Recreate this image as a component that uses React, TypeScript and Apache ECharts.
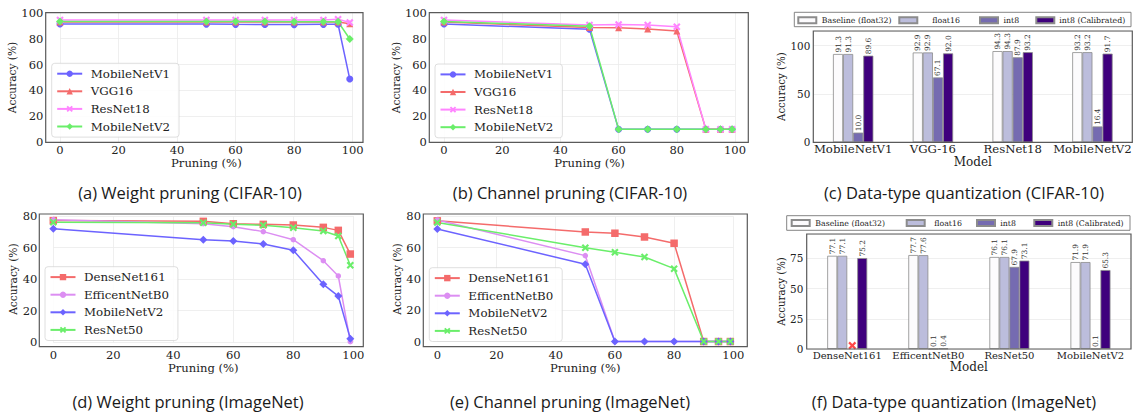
import React, { useEffect, useRef } from "react";
import * as echarts from "echarts";

// ---------------- data ----------------
const pruneLevels = [0, 50, 60, 70, 80, 90, 95, 99];

// (a) weight pruning, CIFAR-10
const wCifarMobileNetV1 = [91.3, 91.2, 91.0, 90.9, 90.8, 91.0, 91.1, 48.8];
const wCifarVGG16 = [92.9, 92.9, 92.9, 92.9, 92.9, 92.9, 92.8, 91.5];
const wCifarResNet18 = [94.3, 94.3, 94.3, 94.3, 94.3, 94.4, 94.9, 92.5];
const wCifarMobileNetV2 = [93.2, 93.2, 93.2, 93.2, 93.1, 93.1, 93.0, 79.7];

// (b) channel pruning, CIFAR-10
const cCifarMobileNetV1 = [91.3, 87.2, 10.0, 10.0, 10.0, 10.0, 10.0, 10.0];
const cCifarVGG16 = [92.9, 88.5, 88.4, 87.5, 85.8, 10.0, 10.0, 10.0];
const cCifarResNet18 = [94.3, 90.6, 90.8, 90.6, 89.2, 10.0, 10.0, 10.0];
const cCifarMobileNetV2 = [93.2, 89.6, 10.0, 10.0, 10.0, 10.0, 10.0, 10.0];

// (d) weight pruning, ImageNet
const wImDenseNet161 = [77.1, 76.6, 75.1, 74.7, 74.3, 72.8, 70.9, 55.9];
const wImEfficentNetB0 = [77.7, 75.1, 73.2, 70.1, 65.0, 51.7, 42.0, 0.4];
const wImMobileNetV2 = [71.9, 65.0, 64.2, 62.3, 58.3, 36.7, 29.3, 2.3];
const wImResNet50 = [76.1, 75.8, 74.7, 74.1, 72.6, 70.5, 67.3, 48.8];

// (e) channel pruning, ImageNet
const cImDenseNet161 = [77.1, 70.0, 69.2, 66.8, 62.8, 0.1, 0.1, 0.1];
const cImEfficentNetB0 = [77.7, 54.9, 0.1, 0.1, 0.1, 0.1, 0.1, 0.1];
const cImMobileNetV2 = [71.9, 49.4, 0.1, 0.1, 0.1, 0.1, 0.1, 0.1];
const cImResNet50 = [76.1, 60.0, 57.0, 54.0, 46.6, 0.1, 0.1, 0.1];

// (c) quantization, CIFAR-10
const qCifarModels = ["MobileNetV1", "VGG-16", "ResNet18", "MobileNetV2"];
const qCifarFloat32 = [91.3, 92.9, 94.3, 93.2];
const qCifarFloat16 = [91.3, 92.9, 94.3, 93.2];
const qCifarInt8 = [10.0, 67.1, 87.9, 16.4];
const qCifarInt8Cal = [89.6, 92.0, 93.2, 91.7];

// (f) quantization, ImageNet
const qImModels = ["DenseNet161", "EfficentNetB0", "ResNet50", "MobileNetV2"];
const qImFloat32 = [77.1, 77.7, 76.1, 71.9];
const qImFloat16 = [77.1, 77.6, 76.1, 71.9];
const qImInt8: (number | null)[] = [null, 0.1, 67.9, 0.1];
const qImInt8Cal = [75.2, 0.4, 73.1, 65.3];
const qImFailed = [[0.062, 2.8]]; // red cross: failed int8 run (DenseNet161)

const xTicks = [0, 20, 40, 60, 80, 100];

// ---------------- styles ----------------
const FONT = "'DejaVu Serif', serif";
const CAPTION_FONT = "'Open Sans', sans-serif";
const TEXT = "#222222";
const GRID_LINE = "#ebebeb";
const FRAME = "#5a5a5a";
const BLUE = "#6c63ff";
const RED = "#f46b6b";
const PINK = "#ff85ff";
const GREEN = "#6aee6a";
const VIOLET = "#dc8ef2";
const X_PATH =
  "path://M2,0 L5,3 L8,0 L10,2 L7,5 L10,8 L8,10 L5,7 L2,10 L0,8 L3,5 L0,2 Z";

const BAR_COLORS = ["#fcfbfd", "#bcbddc", "#756bb1", "#3f007d"];
const BAR_NAMES = ["Baseline (float32)", "float16", "int8", "int8 (Calibrated)"];

function frameRect(x: number, y: number, w: number, h: number, lw = 1.2, color = FRAME) {
  return {
    type: "rect",
    z: 10,
    silent: true,
    shape: { x, y, width: w, height: h },
    style: { fill: "none", stroke: color, lineWidth: lw },
  };
}

function caption(text: string, x: number, y: number) {
  return {
    type: "text",
    z: 10,
    x,
    y,
    silent: true,
    style: {
      text,
      fontSize: 16.5,
      fontFamily: CAPTION_FONT,
      fill: "#1a1a1a",
      align: "center",
      verticalAlign: "middle",
      textAlign: "center",
      textVerticalAlign: "middle",
    },
  };
}

type LineSpec = { name: string; data: number[]; color: string; symbol: string; size: number };

function lineOption(p: any) {
  const series = (p.series as LineSpec[]).map((s) => ({
    type: "line",
    name: s.name,
    data: pruneLevels.map((x, i) => [x, s.data[i]]),
    symbol: s.symbol,
    symbolSize: s.size,
    showSymbol: true,
    lineStyle: { color: s.color, width: 1.5 },
    itemStyle: { color: s.color },
    clip: false,
  }));
  return {
    animation: false,
    textStyle: { fontFamily: FONT },
    grid: { left: p.grid[0], top: p.grid[1], width: p.grid[2], height: p.grid[3] },
    xAxis: {
      type: "value",
      min: xTicks[0],
      max: xTicks[xTicks.length - 1],
      interval: 20,
      name: "Pruning (%)",
      nameLocation: "middle",
      nameGap: p.xNameGap,
      nameTextStyle: { fontFamily: FONT, fontSize: 11.6, color: TEXT },
      axisLine: { show: false },
      axisTick: { show: false },
      axisLabel: { margin: p.xLabelMargin, fontFamily: FONT, fontSize: 11.5, color: TEXT },
      splitLine: { show: true, lineStyle: { color: GRID_LINE, width: 0.8 } },
    },
    yAxis: {
      type: "value",
      min: 0,
      max: p.yMax,
      interval: 20,
      name: "Accuracy (%)",
      nameLocation: "middle",
      nameGap: p.yNameGap,
      nameTextStyle: { fontFamily: FONT, fontSize: 10.6, color: TEXT },
      axisLine: { show: false },
      axisTick: { show: false },
      axisLabel: { margin: p.yLabelMargin, fontFamily: FONT, fontSize: 11.5, color: TEXT },
      splitLine: { show: true, lineStyle: { color: GRID_LINE, width: 0.8 } },
    },
    legend: {
      orient: "vertical",
      left: p.legend[0],
      top: p.legend[1],
      data: (p.series as LineSpec[]).map((s) => s.name),
      itemWidth: 25,
      itemHeight: 8,
      itemGap: 5.6,
      padding: [4.4, 9, 4.6, 4.5],
      backgroundColor: "rgba(255,255,255,0.85)",
      borderColor: "#d6d6d6",
      borderWidth: 0.8,
      borderRadius: 3,
      textStyle: { fontFamily: FONT, fontSize: 11.8, color: TEXT, padding: [0, 0, 0, 3.5] },
    },
    series,
    graphic: [frameRect(p.box[0], p.box[1], p.box[2], p.box[3]), caption(p.caption, p.cap[0], p.cap[1])],
  };
}

function barOption(p: any) {
  const values = [p.f32, p.f16, p.i8, p.cal];
  const series: any[] = values.map((vals: (number | null)[], k: number) => ({
    type: "bar",
    name: BAR_NAMES[k],
    data: vals,
    barWidth: p.barWidth,
    barGap: "0%",
    clip: false,
    itemStyle: { color: BAR_COLORS[k], borderColor: "#8c8c8c", borderWidth: 0.8 },
    label: {
      show: true,
      position: "top",
      rotate: 90,
      align: "left",
      verticalAlign: "middle",
      distance: 1.5,
      fontFamily: FONT,
      fontSize: 7.4,
      color: "#333333",
      formatter: (q: any) => (q.value == null ? "" : Number(q.value).toFixed(1)),
    },
  }));
  if (p.failed) {
    series.push({
      type: "scatter",
      name: "failed",
      xAxisIndex: 1,
      data: p.failed,
      symbol: X_PATH,
      symbolSize: 8,
      itemStyle: { color: "#ff1a1a" },
      z: 5,
    });
  }
  const legends = BAR_NAMES.map((name, k) => ({
    left: p.legendItems[k][0],
    top: p.legendTop,
    data: [name],
    icon: "rect",
    itemWidth: 18,
    itemHeight: 6,
    padding: 0,
    textStyle: { fontFamily: FONT, fontSize: 7.8, color: TEXT, padding: [0, 0, 0, p.legendItems[k][1]] },
  }));
  return {
    animation: false,
    textStyle: { fontFamily: FONT },
    grid: { left: p.grid[0], top: p.grid[1], width: p.grid[2], height: p.grid[3] },
    xAxis: [
      {
        type: "category",
        data: p.models,
        name: "Model",
        nameLocation: "middle",
        nameGap: p.xNameGap,
        nameTextStyle: { fontFamily: FONT, fontSize: 12, color: TEXT },
        axisLine: { show: false },
        axisTick: { show: false },
        axisLabel: { margin: p.xLabelMargin, fontFamily: FONT, fontSize: p.catFont, color: TEXT, interval: 0 },
        splitLine: { show: false },
      },
      { type: "value", min: -0.5, max: 3.5, show: false },
    ],
    yAxis: {
      type: "value",
      min: 0,
      max: p.yMax,
      interval: p.yInterval,
      name: "Accuracy (%)",
      nameLocation: "middle",
      nameGap: p.yNameGap,
      nameTextStyle: { fontFamily: FONT, fontSize: 10.2, color: TEXT },
      axisLine: { show: false },
      axisTick: { show: false },
      axisLabel: { margin: p.yLabelMargin, fontFamily: FONT, fontSize: 10.4, color: TEXT, showMaxLabel: false },
      splitLine: { show: true, lineStyle: { color: GRID_LINE, width: 0.8 } },
    },
    legend: legends,
    series,
    graphic: [
      frameRect(p.grid[0], p.grid[1], p.grid[2], p.grid[3]),
      frameRect(p.legendBox[0], p.legendBox[1], p.legendBox[2], p.legendBox[3], 0.9, "#777777"),
      caption(p.caption, p.cap[0], p.cap[1]),
    ],
  };
}

const options: any[] = [
  lineOption({
    grid: [60, 12.7, 292.7, 129.6],
    box: [45.7, 12.7, 317.3, 129.6],
    yMax: 100,
    legend: [51.7, 63.3],
    yLabelMargin: 16.7,
    yNameGap: 39.3,
    xLabelMargin: 1.5,
    xNameGap: 13,
    caption: "(a) Weight pruning (CIFAR-10)",
    cap: [190, 192],
    series: [
      { name: "MobileNetV1", data: wCifarMobileNetV1, color: BLUE, symbol: "circle", size: 7 },
      { name: "VGG16", data: wCifarVGG16, color: RED, symbol: "triangle", size: 7 },
      { name: "ResNet18", data: wCifarResNet18, color: PINK, symbol: X_PATH, size: 7.5 },
      { name: "MobileNetV2", data: wCifarMobileNetV2, color: GREEN, symbol: "diamond", size: 8 },
    ],
  }),
  lineOption({
    grid: [444, 12.7, 291, 129.6],
    box: [429.3, 12.7, 319, 129.6],
    yMax: 100,
    legend: [435, 64],
    yLabelMargin: 17.1,
    yNameGap: 38.3,
    xLabelMargin: 1.5,
    xNameGap: 13,
    caption: "(b) Channel pruning (CIFAR-10)",
    cap: [570, 192],
    series: [
      { name: "MobileNetV1", data: cCifarMobileNetV1, color: BLUE, symbol: "circle", size: 7 },
      { name: "VGG16", data: cCifarVGG16, color: RED, symbol: "triangle", size: 7 },
      { name: "ResNet18", data: cCifarResNet18, color: PINK, symbol: X_PATH, size: 7.5 },
      { name: "MobileNetV2", data: cCifarMobileNetV2, color: GREEN, symbol: "diamond", size: 8 },
    ],
  }),
  barOption({
    grid: [813.3, 31, 319, 111.3],
    yMax: 115.1,
    yInterval: 50,
    models: qCifarModels,
    f32: qCifarFloat32,
    f16: qCifarFloat16,
    i8: qCifarInt8,
    cal: qCifarInt8Cal,
    barWidth: 10.1,
    catFont: 11.7,
    xLabelMargin: 1,
    xNameGap: 13.4,
    yLabelMargin: 3,
    yNameGap: 23.2,
    legendTop: 16.2,
    legendItems: [
      [797.3, 0.5],
      [898.3, 10],
      [979, 0.5],
      [1035.3, 0],
    ],
    legendBox: [794.3, 12.3, 336.7, 14.4],
    caption: "(c) Data-type quantization (CIFAR-10)",
    cap: [964, 192],
  }),
  lineOption({
    grid: [53.3, 216, 300, 126.3],
    box: [39.3, 214, 324, 132.7],
    yMax: 80,
    legend: [45, 266.7],
    yLabelMargin: 16,
    yNameGap: 32.6,
    xLabelMargin: 6.7,
    xNameGap: 17.8,
    caption: "(d) Weight pruning (ImageNet)",
    cap: [188, 401],
    series: [
      { name: "DenseNet161", data: wImDenseNet161, color: RED, symbol: "rect", size: 7.5 },
      { name: "EfficentNetB0", data: wImEfficentNetB0, color: VIOLET, symbol: "circle", size: 5.5 },
      { name: "MobileNetV2", data: wImMobileNetV2, color: BLUE, symbol: "diamond", size: 8 },
      { name: "ResNet50", data: wImResNet50, color: GREEN, symbol: X_PATH, size: 7.5 },
    ],
  }),
  lineOption({
    grid: [437.3, 216.3, 296, 125.4],
    box: [423.3, 214, 324, 132.7],
    yMax: 80,
    legend: [429.3, 267.7],
    yLabelMargin: 16.3,
    yNameGap: 31.6,
    xLabelMargin: 7.6,
    xNameGap: 18.7,
    caption: "(e) Channel pruning (ImageNet)",
    cap: [570, 401],
    series: [
      { name: "DenseNet161", data: cImDenseNet161, color: RED, symbol: "rect", size: 7.5 },
      { name: "EfficentNetB0", data: cImEfficentNetB0, color: VIOLET, symbol: "circle", size: 5.5 },
      { name: "MobileNetV2", data: cImMobileNetV2, color: BLUE, symbol: "diamond", size: 8 },
      { name: "ResNet50", data: cImResNet50, color: GREEN, symbol: X_PATH, size: 7.5 },
    ],
  }),
  barOption({
    grid: [806.7, 234, 324.3, 115],
    yMax: 95.1,
    yInterval: 25,
    models: qImModels,
    f32: qImFloat32,
    f16: qImFloat16,
    i8: qImInt8,
    cal: qImInt8Cal,
    failed: qImFailed,
    barWidth: 10,
    catFont: 10,
    xLabelMargin: 1,
    xNameGap: 11,
    yLabelMargin: 3.4,
    yNameGap: 19.9,
    legendTop: 219.1,
    legendItems: [
      [790.7, 0.6],
      [905.7, 4.6],
      [976, 0.3],
      [1033.3, 0.4],
    ],
    legendBox: [786.7, 215.7, 343.3, 14.6],
    caption: "(f) Data-type quantization (ImageNet)",
    cap: [954, 401],
  }),
];

function ChartLayer({ option }: { option: any }) {
  const ref = useRef<HTMLDivElement>(null);
  useEffect(() => {
    const chart = echarts.init(ref.current!, null, { renderer: "svg" });
    chart.setOption(option);
    return () => chart.dispose();
  }, [option]);
  return (
    <div
      ref={ref}
      style={{ position: "absolute", left: 0, top: 0, width: 1136, height: 413 }}
    />
  );
}

export default function App() {
  return (
    <div
      style={{
        position: "fixed",
        left: 0,
        top: 0,
        width: 1136,
        height: 413,
        background: "#ffffff",
        overflow: "hidden",
      }}
    >
      {options.map((opt, i) => (
        <ChartLayer key={i} option={opt} />
      ))}
    </div>
  );
}
